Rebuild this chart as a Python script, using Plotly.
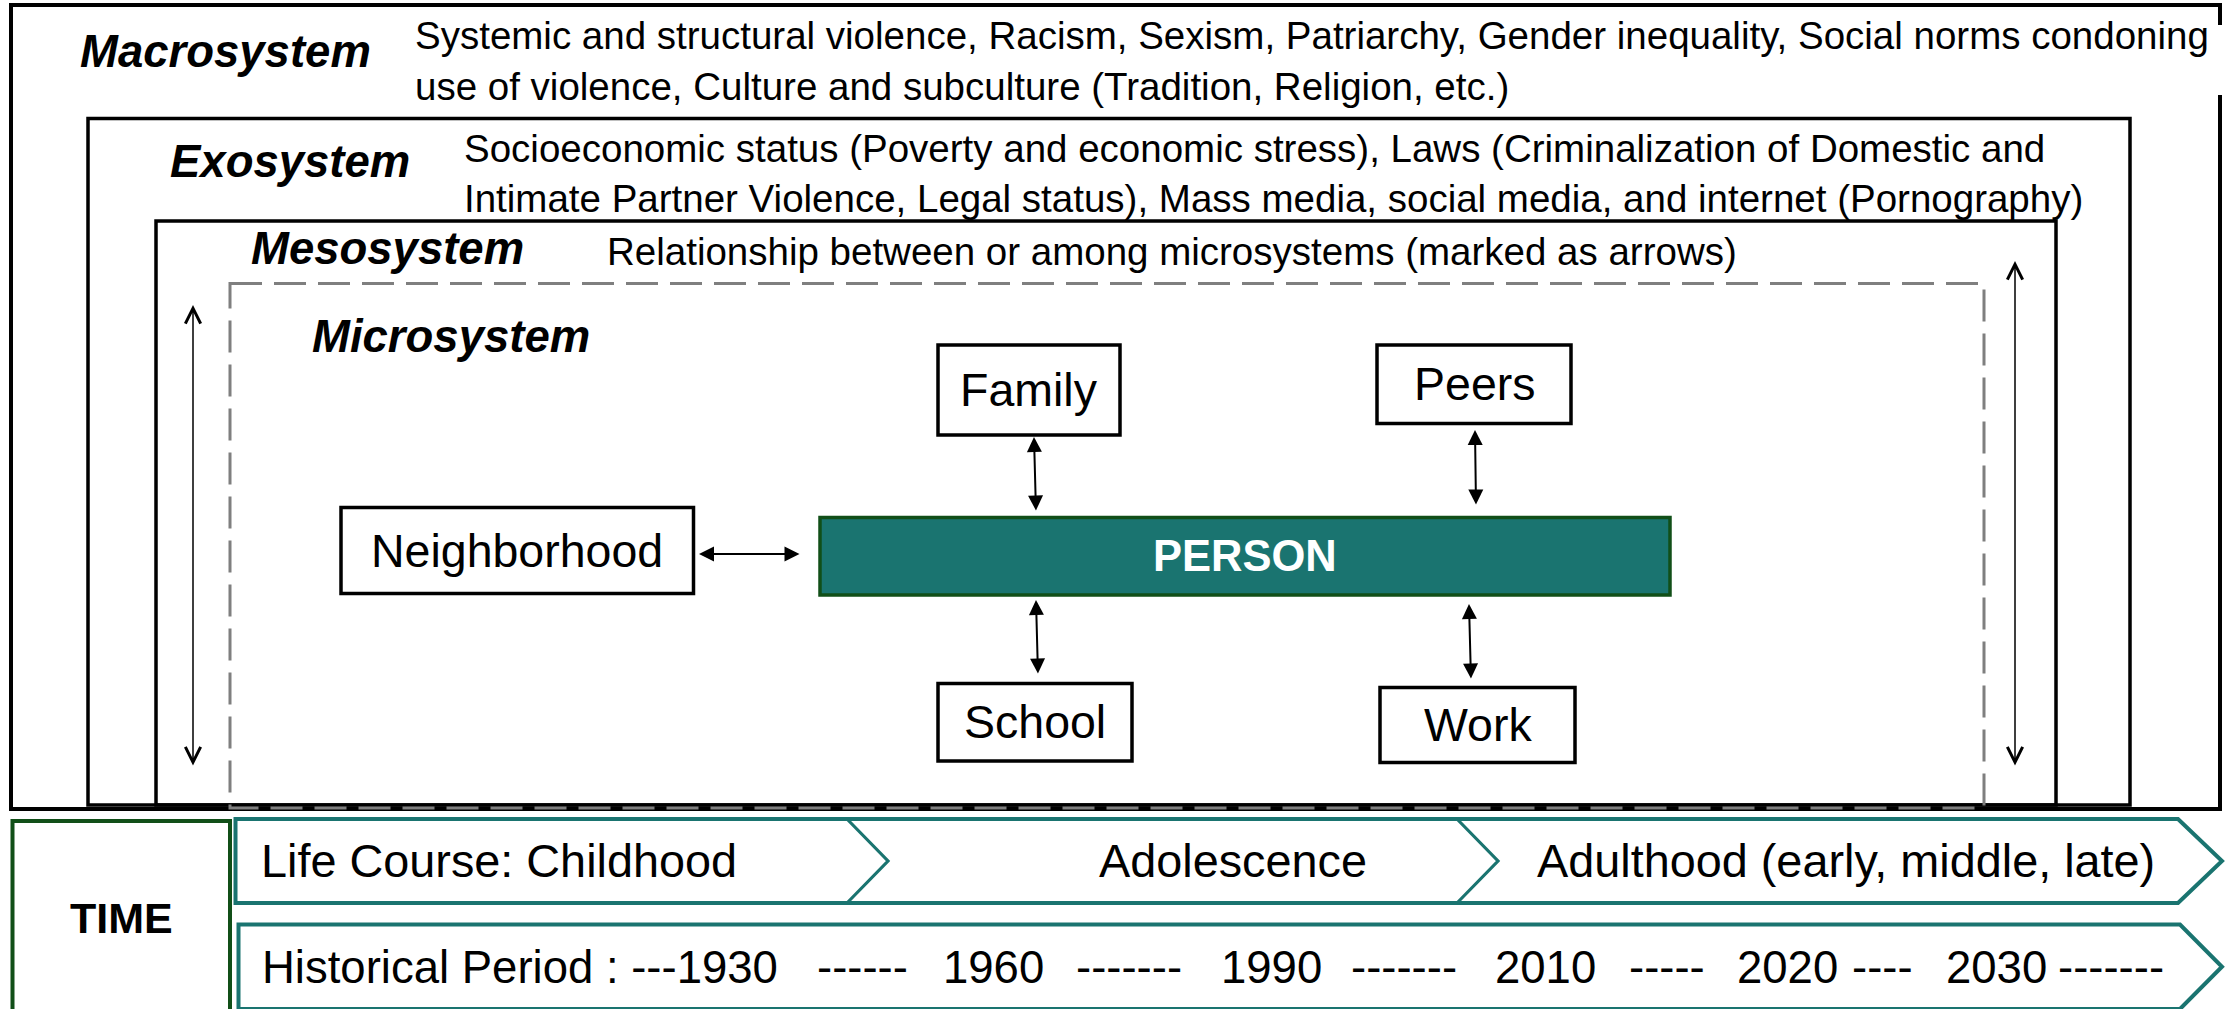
import plotly.graph_objects as go

# ---------------- content (text) ----------------
system_names = ["Macrosystem", "Exosystem", "Mesosystem", "Microsystem"]
macro_lines = [
    "Systemic and structural violence, Racism, Sexism, Patriarchy, Gender inequality, Social norms condoning",
    "use of violence, Culture and subculture (Tradition, Religion, etc.)",
]
exo_lines = [
    "Socioeconomic status (Poverty and economic stress), Laws (Criminalization of Domestic and",
    "Intimate Partner Violence, Legal status), Mass media, social media, and internet (Pornography)",
]
meso_lines = ["Relationship between or among microsystems (marked as arrows)"]
micro_settings = ["Family", "Peers", "Neighborhood", "School", "Work"]
center_label = "PERSON"
time_label = "TIME"
life_stages = ["Life Course: Childhood", "Adolescence", "Adulthood (early, middle, late)"]
hist_segments = ["Historical Period : ---1930", "------", "1960", "-------", "1990", "-------",
                 "2010", "-----", "2020", "----", "2030", "-------"]

# ---------------- layout geometry (canvas units) ----------------
W, H = 2231, 1009
FONT = "Liberation Sans, Arial, sans-serif"
TEAL = "#1a7470"
DKGREEN = "#114f18"
GREY = "#7f7f7f"

macro_box = dict(x0=11, y0=5, x1=2220, y1=809, gap=(25, 95))
exo_box = dict(x0=88, y0=118.5, x1=2130, y1=805)
meso_box = dict(x0=156, y0=221, x1=2056, y1=805)
micro_box = dict(x0=230, y0=283.5, x1=1984, y1=808)

setting_boxes = {
    "Family": (938, 345, 1120, 435),
    "Peers": (1377, 345, 1571, 423.5),
    "Neighborhood": (341, 507.5, 693.5, 593.5),
    "School": (938, 683.5, 1132, 761),
    "Work": (1380, 687.5, 1575, 762.5),
}
person_box = (820, 517.5, 1670, 595)

# arrows: (x_head, y_head, x_tail, y_tail)
link_arrows = [
    (699, 554, 801, 554),
    (1034, 437, 1036, 512),
    (1475, 430, 1476, 506),
    (1036, 600, 1038, 675),
    (1469, 604, 1471, 680),
]
meso_arrows = [(193, 305, 193, 767), (2015, 261, 2015, 767)]

name_pos = [(78, 51), (168, 161), (249, 248), (310, 336)]
macro_pos = [(413, 35), (413, 86)]
exo_pos = [(462, 148), (462, 198)]
meso_pos = [(605, 251)]

time_box = (12.5, 821, 230, 1015)
life_band = dict(x0=235.5, y0=819, y1=903, xr=2178, xp=2222)
life_chevrons = [(847, 888), (1457, 1498)]
hist_band = dict(x0=238.5, y0=924.5, y1=1009, xr=2180, xp=2222)
life_text_x = [259, 1097, 1535]
hist_text_x = [260, 815, 941, 1074, 1219, 1349, 1493, 1627, 1735, 1850, 1944, 2056]

# ---------------- build figure ----------------
fig = go.Figure()
shapes = []
ann = []

g0, g1 = macro_box["gap"]
mx0, my0, mx1, my1 = macro_box["x0"], macro_box["y0"], macro_box["x1"], macro_box["y1"]
shapes.append(dict(type="path", xref="x", yref="y",
                   path=f"M{mx1},{g0} L{mx1},{my0} L{mx0},{my0} L{mx0},{my1} L{mx1},{my1} L{mx1},{g1}",
                   line=dict(color="black", width=4)))
for b in (exo_box, meso_box):
    shapes.append(dict(type="rect", xref="x", yref="y", x0=b["x0"], y0=b["y0"], x1=b["x1"], y1=b["y1"],
                       line=dict(color="black", width=3.5)))
shapes.append(dict(type="rect", xref="x", yref="y", x0=micro_box["x0"], y0=micro_box["y0"],
                   x1=micro_box["x1"], y1=micro_box["y1"],
                   line=dict(color=GREY, width=3, dash="32px,12px")))

for name in micro_settings:
    x0, y0, x1, y1 = setting_boxes[name]
    shapes.append(dict(type="rect", xref="x", yref="y", x0=x0, y0=y0, x1=x1, y1=y1,
                       line=dict(color="black", width=3.5), fillcolor="white"))
    ann.append(dict(x=(x0 + x1) / 2, y=(y0 + y1) / 2, text=name, showarrow=False,
                    xanchor="center", yanchor="middle",
                    font=dict(family=FONT, size=46.5, color="black")))

px0, py0, px1, py1 = person_box
shapes.append(dict(type="rect", xref="x", yref="y", x0=px0, y0=py0, x1=px1, y1=py1,
                   line=dict(color=DKGREEN, width=3.5), fillcolor=TEAL))
ann.append(dict(x=(px0 + px1) / 2, y=(py0 + py1) / 2, text=f"<b>{center_label}</b>", showarrow=False,
                xanchor="center", yanchor="middle", font=dict(family=FONT, size=43.5, color="white")))

for name, (x, y) in zip(system_names, name_pos):
    ann.append(dict(x=x, y=y, text=f"<b><i>{name}</i></b>", showarrow=False, xanchor="left",
                    yanchor="middle", font=dict(family=FONT, size=45.5, color="black")))
for lines, pos in ((macro_lines, macro_pos), (exo_lines, exo_pos), (meso_lines, meso_pos)):
    for t, (x, y) in zip(lines, pos):
        ann.append(dict(x=x, y=y, text=t, showarrow=False, xanchor="left", yanchor="middle",
                        font=dict(family=FONT, size=38.5, color="black")))

for (xh, yh, xt, yt) in link_arrows:
    ann.append(dict(x=xh, y=yh, ax=xt, ay=yt, xref="x", yref="y", axref="x", ayref="y", text="",
                    showarrow=True, arrowside="end+start", arrowhead=2, startarrowhead=2,
                    arrowsize=1.5, startarrowsize=1.5, arrowwidth=2, arrowcolor="black",
                    standoff=0, startstandoff=0))
for (xh, yh, xt, yt) in meso_arrows:
    ann.append(dict(x=xh, y=yh, ax=xt, ay=yt, xref="x", yref="y", axref="x", ayref="y", text="",
                    showarrow=True, arrowside="end+start", arrowhead=5, startarrowhead=5,
                    arrowsize=2, startarrowsize=2, arrowwidth=1.5, arrowcolor="black",
                    standoff=0, startstandoff=0))

tx0, ty0, tx1, ty1 = time_box
shapes.append(dict(type="rect", xref="x", yref="y", x0=tx0, y0=ty0, x1=tx1, y1=ty1,
                   line=dict(color=DKGREEN, width=4)))
ann.append(dict(x=(tx0 + tx1) / 2, y=918, text=f"<b>{time_label}</b>", showarrow=False,
                xanchor="center", yanchor="middle", font=dict(family=FONT, size=43, color="black")))

for band in (life_band, hist_band):
    ym = (band["y0"] + band["y1"]) / 2
    shapes.append(dict(type="path", xref="x", yref="y",
                       path=(f"M{band['x0']},{band['y0']} L{band['xr']},{band['y0']} L{band['xp']},{ym} "
                             f"L{band['xr']},{band['y1']} L{band['x0']},{band['y1']} Z"),
                       line=dict(color=TEAL, width=4)))
lym = (life_band["y0"] + life_band["y1"]) / 2
for (xa, xb) in life_chevrons:
    shapes.append(dict(type="path", xref="x", yref="y",
                       path=f"M{xa},{life_band['y0']} L{xb},{lym} L{xa},{life_band['y1']}",
                       line=dict(color=TEAL, width=3.2)))
for t, x in zip(life_stages, life_text_x):
    ann.append(dict(x=x, y=lym, text=t, showarrow=False, xanchor="left", yanchor="middle",
                    font=dict(family=FONT, size=46.8, color="black")))
hym = 967
for t, x in zip(hist_segments, hist_text_x):
    ann.append(dict(x=x, y=hym, text=t, showarrow=False, xanchor="left", yanchor="middle",
                    font=dict(family=FONT, size=45.5, color="black")))

fig.add_trace(go.Scatter(x=[0, W], y=[0, H], mode="markers", marker=dict(opacity=0),
                         hoverinfo="skip", showlegend=False))
fig.update_layout(
    width=W, height=H, margin=dict(l=0, r=0, t=0, b=0),
    paper_bgcolor="white", plot_bgcolor="white", showlegend=False,
    xaxis=dict(range=[0, W], visible=False, fixedrange=True),
    yaxis=dict(range=[H, 0], visible=False, fixedrange=True),
    shapes=shapes, annotations=ann,
)
fig.write_html("out.html", config={"displayModeBar": False},
               post_script="document.body.style.margin='0';document.body.style.overflow='hidden';")
